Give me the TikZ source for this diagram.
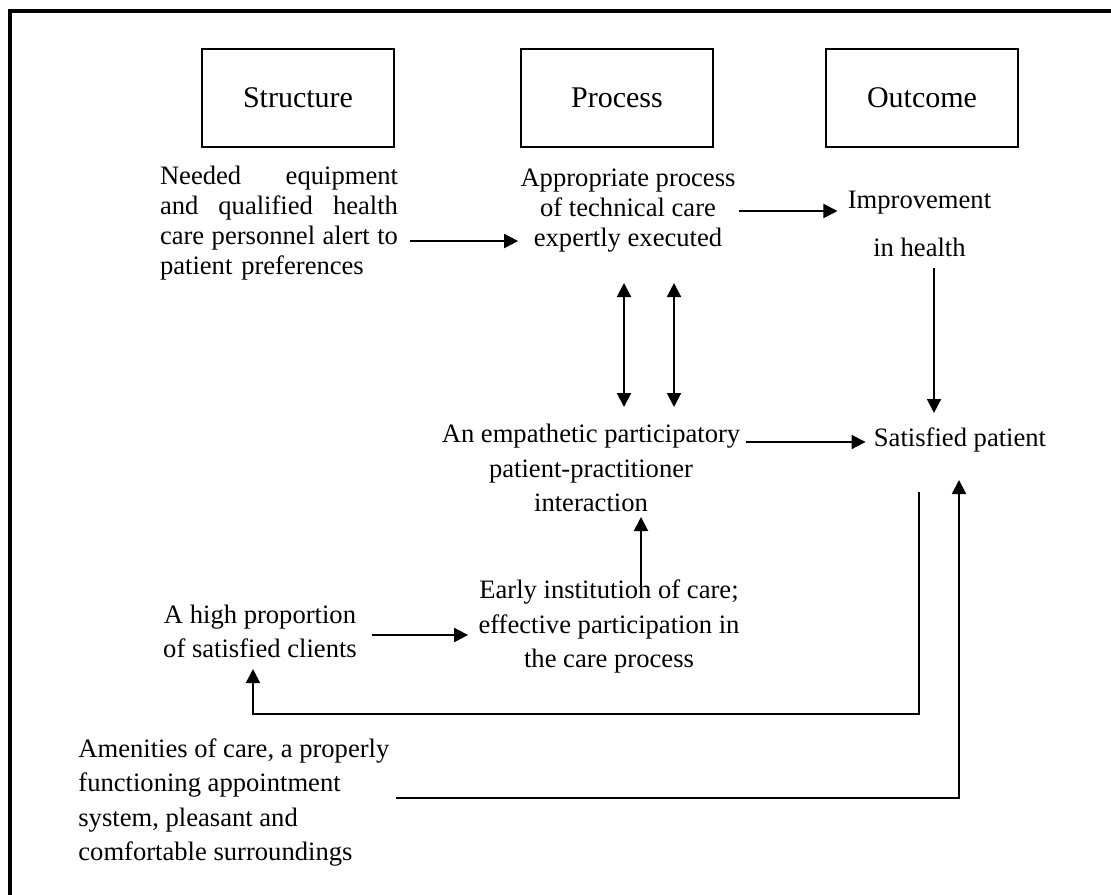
\documentclass[tikz,border=0pt]{standalone}
\usepackage{fontspec}
\setmainfont{Liberation Serif}
\usetikzlibrary{arrows.meta,calc}

\begin{document}
\begin{tikzpicture}[x=5pt,y=5pt,
		catbox/.style={draw=black,line width=1.1pt,minimum width=96pt,minimum height=49pt,font=\fontsize{15}{18}\selectfont},
		tight/.style={font=\fontsize{13.3}{15}\selectfont},
		loose/.style={font=\fontsize{13.3}{24}\selectfont},
		arr/.style={-{Triangle[length=7pt,width=7pt]},line width=1pt},
		dbl/.style={{Triangle[length=7pt,width=7pt]}-{Triangle[length=7pt,width=7pt]},line width=1pt}]
					\tikzstyle{every node}+=[inner sep=0pt,font=\fontsize{13.3}{17.25}\selectfont]
					\useasboundingbox (0,0) rectangle (111.1,-89.4);
					% page frame, cut at top and right
					\draw [black,line width=2pt] (111.5,-1.05) -- (1.0,-1.05) -- (1.0,-89.8);
					% the three headings
					\draw (29.8,-9.8) node (structure) [catbox] {Structure};
					\draw (61.7,-9.8) node (process) [catbox] {Process};
					\draw (92.2,-9.8) node (outcome) [catbox] {Outcome};
					% texts
					\draw (27.9,-22.3) node (needed) [tight,text width=119pt,align=left]
						{Needed\hfill equipment\\and\hfill qualified\hfill health\\care\hfill personnel\hfill alert\hfill to\\patient preferences};
					\draw (62.8,-21.1) node (approp) [tight,align=center] {Appropriate process\\of technical care\\expertly executed};
					\draw (91.95,-22.4) node (improve) [loose,align=center] {Improvement\\in health};
					\draw (59.1,-46.8) node (empath) [align=center] {An empathetic participatory\\patient-practitioner\\interaction};
					\draw (96.0,-44.0) node (satisfied) {Satisfied patient};
					\draw (60.9,-62.65) node (early) [align=center] {Early institution of care;\\effective participation in\\the care process};
					\draw (26.0,-63.15) node (high) [align=center] {A high proportion\\of satisfied clients};
					\draw (7.8,-80.25) node (amen) [anchor=west,align=left]
						{Amenities of care, a properly\\functioning appointment\\system, pleasant and\\comfortable surroundings};
					% connectors
					\draw [arr] ($(needed.east)+(6pt,-9pt)$) -- ($(needed.east -| approp.west)+(-1pt,-9pt)$);
					\draw [arr] ($(approp.east)+(1.5pt,0)$) -- ($(approp.east -| improve.west)+(-5pt,0)$);
					\draw [arr] ($(improve.center)+(7.25pt,-22pt)$) -- ($(improve.center |- satisfied.center)+(7.25pt,13.5pt)$);
					\draw [dbl] ($(approp.center)+(-2pt,-36pt)$) -- ($(approp.center |- empath.center)+(-2pt,30.5pt)$);
					\draw [dbl] ($(approp.center)+(23pt,-36pt)$) -- ($(approp.center |- empath.center)+(23pt,30.5pt)$);
					\draw [arr] ($(empath.east |- satisfied.west)+(2.5pt,-1pt)$) -- ($(satisfied.west)+(-4pt,-1pt)$);
					\draw [arr] ($(early.center)+(16pt,19.75pt)$) -- ($(early.center |- empath.center)+(16pt,-24.5pt)$);
					\draw [arr] ($(high.east)+(7.5pt,-1.75pt)$) -- ($(high.east -| early.west)+(-5pt,-1.75pt)$);
					\draw [arr] ($(satisfied.center)+(-20.5pt,-26pt)$) -- ++(0,-111pt) -| ($(high.center)+(-3.5pt,-18.75pt)$);
					\draw [arr] ($(amen.east)+(3pt,2.25pt)$) -| ($(satisfied.center)+(-0.5pt,-20pt)$);
				\end{tikzpicture}
\end{document}
